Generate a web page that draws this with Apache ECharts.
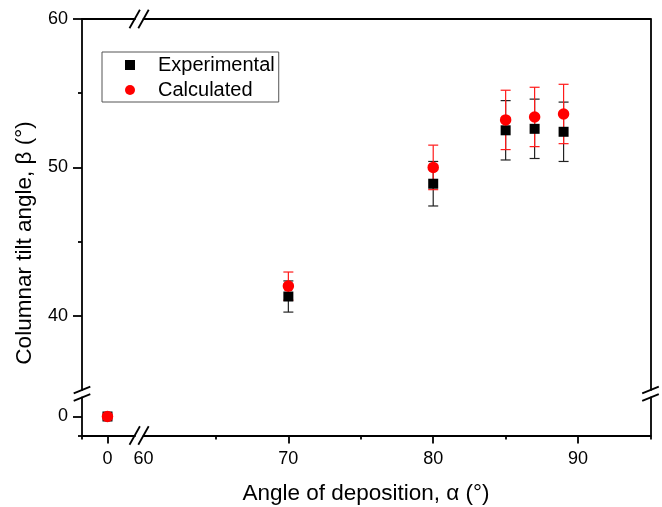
<!DOCTYPE html>
<html>
<head>
<meta charset="utf-8">
<script src="https://cdn.jsdelivr.net/npm/echarts@6/dist/echarts.min.js"></script>
<style>html,body{margin:0;padding:0;background:#fff}#c{width:662px;height:507px}</style>
</head>
<body>
<div id="c"></div>
<script>
// ---- data ----
const angles = [70, 80, 85, 87, 89];
const experimental = [41.3, 48.9, 52.5, 52.6, 52.4];
const experimentalErr = [1.05, 1.5, 2.0, 2.0, 2.0];
const calculated = [42.0, 50.0, 53.2, 53.4, 53.6];
const calculatedErr = [0.95, 1.5, 2.0, 2.0, 2.0];
const originAngle = [0];
const originExperimental = [0];
const originCalculated = [0];
const xMajorTicks = [70, 80, 90];
const xMinorTicks = [65, 75, 85, 95];
const xLabels = [60, 70, 80, 90];
const yMajorTicks = [40, 50, 60];
const yMinorTicks = [45, 55];
const seriesNames = ['Experimental', 'Calculated'];
const xTitle = 'Angle of deposition, \u03b1 (\u00b0)';
const yTitle = 'Columnar tilt angle, \u03b2 (\u00b0)';

// ---- layout ----
const FONT = "'Liberation Sans', Arial, sans-serif";
const W = 662, H = 507;
const L = 82, R = 650.5, T = 19, B = 435.5;
const xLowEnd = 135, xHighStart = 143.5;
const yHighEnd = 390, yLowStart = 397.5;
const axisColor = '#000';
const lw = 1.8;

const pairs = (xs, ys) => xs.map((x, i) => [x, ys[i]]);
const errData = (xs, ys, es) => xs.map((x, i) => [x, ys[i] - es[i], ys[i] + es[i]]);

function errRender(color) {
  return function (params, api) {
    const x = api.value(0);
    const lo = api.coord([x, api.value(1)]);
    const hi = api.coord([x, api.value(2)]);
    const hw = 5;
    const st = { stroke: color, lineWidth: 1.2 };
    return {
      type: 'group',
      children: [
        { type: 'line', shape: { x1: hi[0], y1: hi[1], x2: lo[0], y2: lo[1] }, style: st },
        { type: 'line', shape: { x1: hi[0] - hw, y1: hi[1], x2: hi[0] + hw, y2: hi[1] }, style: st },
        { type: 'line', shape: { x1: lo[0] - hw, y1: lo[1], x2: lo[0] + hw, y2: lo[1] }, style: st }
      ]
    };
  };
}

const lineStyle = { color: axisColor, width: lw };
const axLine = { show: true, onZero: false, lineStyle };
const noLine = { show: false, onZero: false };
const hiddenAxisBits = { axisTick: { show: false }, axisLabel: { show: false }, splitLine: { show: false } };
const labelStyle = { color: '#000', fontSize: 18, fontFamily: FONT };

const grids = [
  { left: xHighStart, right: W - R, top: T, height: yHighEnd - T },          // 0 TR (data)
  { left: xHighStart, right: W - R, top: yLowStart, height: B - yLowStart }, // 1 BR
  { left: L, width: xLowEnd - L, top: yLowStart, height: B - yLowStart },    // 2 BL (origin)
  { left: L, width: xLowEnd - L, top: T, height: yHighEnd - T }              // 3 TL
];

const xAxes = [
  Object.assign({ gridIndex: 0, type: 'value', min: 60, max: 95, position: 'top', axisLine: axLine }, hiddenAxisBits),
  { gridIndex: 1, type: 'value', min: 60, max: 95, position: 'bottom', axisLine: axLine,
    axisTick: { show: true, length: 8, lineStyle, customValues: xMajorTicks },
    axisLabel: { show: true, margin: 15, customValues: xLabels, ...labelStyle }, splitLine: { show: false } },
  { gridIndex: 1, type: 'value', min: 60, max: 95, position: 'bottom', axisLine: noLine,
    axisTick: { show: true, length: 4, lineStyle, customValues: xMinorTicks },
    axisLabel: { show: false }, splitLine: { show: false } },
  { gridIndex: 2, type: 'value', min: -1, max: 1.08, position: 'bottom', axisLine: axLine,
    axisTick: { show: true, length: 8, lineStyle, customValues: [0] },
    axisLabel: { show: true, margin: 15, customValues: [0], ...labelStyle }, splitLine: { show: false } },
  { gridIndex: 2, type: 'value', min: -1, max: 1.08, position: 'bottom', axisLine: noLine,
    axisTick: { show: true, length: 4, lineStyle, customValues: [-1] },
    axisLabel: { show: false }, splitLine: { show: false } },
  Object.assign({ gridIndex: 3, type: 'value', min: 0, max: 1, position: 'top', axisLine: axLine }, hiddenAxisBits)
];

const yAxes = [
  Object.assign({ gridIndex: 0, type: 'value', min: 35, max: 60, position: 'right', axisLine: axLine }, hiddenAxisBits),
  Object.assign({ gridIndex: 1, type: 'value', min: -1, max: 1, position: 'right', axisLine: axLine }, hiddenAxisBits),
  { gridIndex: 2, type: 'value', min: -1, max: 1, position: 'left', axisLine: axLine,
    axisTick: { show: true, length: 9, lineStyle, customValues: [0] },
    axisLabel: { show: true, margin: 14, customValues: [0], ...labelStyle }, splitLine: { show: false } },
  { gridIndex: 3, type: 'value', min: 35, max: 60, position: 'left', axisLine: axLine,
    axisTick: { show: true, length: 9, lineStyle, customValues: yMajorTicks },
    axisLabel: { show: true, margin: 14, customValues: yMajorTicks, ...labelStyle }, splitLine: { show: false } },
  { gridIndex: 3, type: 'value', min: 35, max: 60, position: 'left', axisLine: noLine,
    axisTick: { show: true, length: 4, lineStyle, customValues: yMinorTicks },
    axisLabel: { show: false }, splitLine: { show: false } },
  { gridIndex: 2, type: 'value', min: -1, max: 1, position: 'left', axisLine: noLine,
    axisTick: { show: true, length: 4, lineStyle, customValues: [-1] },
    axisLabel: { show: false }, splitLine: { show: false } }
];

const series = [
  { name: 'Experimental error', type: 'custom', xAxisIndex: 0, yAxisIndex: 0,
    renderItem: errRender('#222'), encode: { x: 0, y: [1, 2] },
    data: errData(angles, experimental, experimentalErr), silent: true, clip: false },
  { name: seriesNames[0], type: 'scatter', xAxisIndex: 0, yAxisIndex: 0, symbol: 'rect', symbolSize: 10,
    itemStyle: { color: '#000', opacity: 1 }, data: pairs(angles, experimental) },
  { name: 'Calculated error', type: 'custom', xAxisIndex: 0, yAxisIndex: 0,
    renderItem: errRender('#ff1a1a'), encode: { x: 0, y: [1, 2] },
    data: errData(angles, calculated, calculatedErr), silent: true, clip: false },
  { name: seriesNames[1], type: 'scatter', xAxisIndex: 0, yAxisIndex: 0, symbol: 'circle', symbolSize: 11.5,
    itemStyle: { color: '#ff0000', opacity: 1 }, data: pairs(angles, calculated) },
  { name: seriesNames[0], type: 'scatter', xAxisIndex: 3, yAxisIndex: 2, symbol: 'rect', symbolSize: 10,
    itemStyle: { color: '#000', opacity: 1 }, data: pairs(originAngle, originExperimental) },
  { name: seriesNames[1], type: 'scatter', xAxisIndex: 3, yAxisIndex: 2, symbol: 'circle', symbolSize: 11.5,
    itemStyle: { color: '#ff0000', opacity: 1 }, data: pairs(originAngle, originCalculated) }
];

// break marks
function slash(cx, cy, dx, dy) {
  return { type: 'line', shape: { x1: cx - dx, y1: cy + dy, x2: cx + dx, y2: cy - dy },
    style: { stroke: '#000', lineWidth: 1.8 }, silent: true };
}
const vBreak = (cx) => [slash(cx, yHighEnd, 8.3, 3.3), slash(cx, yLowStart, 8.3, 3.3)];
const hBreak = (cy) => [slash(xLowEnd - 0.3, cy, 5.2, 9.2), slash(xHighStart, cy, 5.2, 9.2)];

const graphic = [
  ...vBreak(L), ...vBreak(R), ...hBreak(B), ...hBreak(T),
  { type: 'text', x: 366, y: 494, silent: true,
    style: { text: xTitle, textAlign: 'center', textVerticalAlign: 'middle', fontSize: 22.5, fontFamily: FONT, fill: '#000' } },
  { type: 'text', x: 25, y: 243, rotation: Math.PI / 2, silent: true,
    style: { text: yTitle, textAlign: 'center', textVerticalAlign: 'middle', fontSize: 22.5, fontFamily: FONT, fill: '#000' } }
];

const chart = echarts.init(document.getElementById('c'), null, { renderer: 'canvas' });
chart.setOption({
  animation: false,
  backgroundColor: '#fff',
  grid: grids,
  xAxis: xAxes,
  yAxis: yAxes,
  legend: {
    left: 102, top: 52, orient: 'vertical',
    padding: [3, 4, 2, 23], itemGap: 5, itemWidth: 46, itemHeight: 10,
    borderColor: '#555', borderWidth: 1, selectedMode: false,
    textStyle: { fontSize: 20, color: '#000', fontFamily: FONT },
    data: [{ name: seriesNames[0], icon: 'path://M0,0H10V10H0Z' }, { name: seriesNames[1], icon: 'circle' }]
  },
  series: series,
  graphic: graphic
});
</script>
</body>
</html>
